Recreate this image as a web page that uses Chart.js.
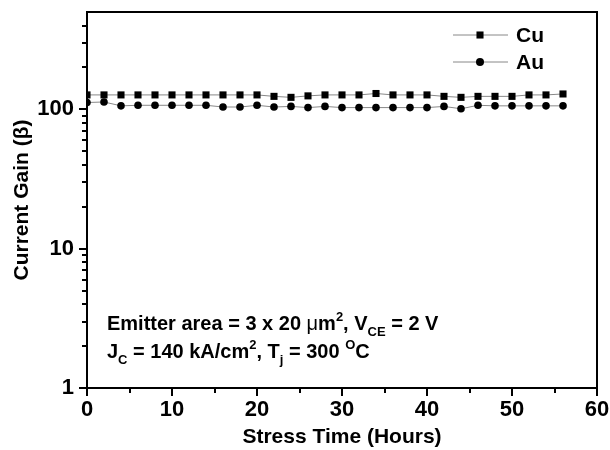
<!DOCTYPE html>
<html>
<head>
<meta charset="utf-8">
<script src="https://cdn.jsdelivr.net/npm/chart.js@4/dist/chart.umd.min.js"></script>
<style>
  html, body { margin: 0; padding: 0; background: #fff; }
  #wrap { width: 610px; height: 450px; }
</style>
</head>
<body>
<div id="wrap"><canvas id="gain"></canvas></div>
<script>
// stress time in hours
const hours = [0, 2, 4, 6, 8, 10, 12, 14, 16, 18, 20, 22, 24, 26, 28,
  30, 32, 34, 36, 38, 40, 42, 44, 46, 48, 50, 52, 54, 56]
// current gain beta
const cuGain = [127, 127, 127, 127, 127, 127, 127, 127, 127, 127, 127, 124, 122, 125, 127,
  127, 127, 130, 127, 127, 127, 124, 122, 124, 124, 124, 127, 127, 129]
const auGain = [112, 113, 106, 107, 107, 107, 107, 107, 104, 104, 107, 104, 105, 103, 105,
  103, 103, 103, 103, 103, 103, 105, 101, 107, 106, 106, 106, 106, 106]

const xMajor = [0, 10, 20, 30, 40, 50, 60]
const xMinor = [5, 15, 25, 35, 45, 55]
const yMajor = [1, 10, 100]
const yMinor = [2, 3, 4, 5, 6, 7, 8, 9, 20, 30, 40, 50, 60, 70, 80, 90, 200, 300, 400]

const FONT = '"Liberation Sans", Arial, sans-serif'

const points = (ys) => hours.map((h, i) => ({ x: h, y: ys[i] }))

// frame, minor ticks, legend and the test-condition note
const decorations = {
  id: 'decorations',
  afterDraw(chart) {
    const { ctx, chartArea: a, scales } = chart
    ctx.save()
    ctx.strokeStyle = '#000'
    ctx.lineWidth = 2
    ctx.strokeRect(a.left, a.top, a.right - a.left, a.bottom - a.top)

    ctx.beginPath()
    xMinor.forEach(v => {
      const px = Math.round(scales.x.getPixelForValue(v))
      ctx.moveTo(px, a.bottom)
      ctx.lineTo(px, a.bottom + 5)
    })
    yMinor.forEach(v => {
      const py = Math.round(scales.y.getPixelForValue(v))
      ctx.moveTo(a.left, py)
      ctx.lineTo(a.left - 5, py)
    })
    ctx.stroke()

    // legend
    const items = [
      { label: 'Cu', style: 'rect', r: 5, y: 35 },
      { label: 'Au', style: 'circle', r: 4, y: 62 }
    ]
    items.forEach(it => {
      ctx.strokeStyle = '#888'
      ctx.lineWidth = 1
      ctx.beginPath()
      ctx.moveTo(453, it.y)
      ctx.lineTo(508, it.y)
      ctx.stroke()
      ctx.fillStyle = '#000'
      Chart.helpers.drawPoint(ctx, { pointStyle: it.style, radius: it.r, borderWidth: 0 }, 480, it.y)
      ctx.fillStyle = '#000'
      ctx.font = 'bold 21px ' + FONT
      ctx.textBaseline = 'middle'
      ctx.textAlign = 'left'
      ctx.fillText(it.label, 516, it.y + 1)
    })

    // note with sub/superscripts
    const runs = (list, x, base) => {
      ctx.textBaseline = 'alphabetic'
      ctx.textAlign = 'left'
      list.forEach(r => {
        const size = r.sub || r.sup ? 13 : 20
        ctx.font = (r.plain ? '' : 'bold ') + size + 'px ' + FONT
        const dy = r.sup ? -9 : r.sub ? 6 : 0
        ctx.fillText(r.t, x, base + dy)
        x += ctx.measureText(r.t).width
      })
    }
    runs([
      { t: 'Emitter area = 3 x 20 ' }, { t: 'μ', plain: true }, { t: 'm' }, { t: '2', sup: true },
      { t: ', V' }, { t: 'CE', sub: true }, { t: ' = 2 V' }
    ], 107, 330)
    runs([
      { t: 'J' }, { t: 'C', sub: true }, { t: ' = 140 kA/cm' }, { t: '2', sup: true },
      { t: ', T' }, { t: 'j', sub: true }, { t: ' = 300 ' }, { t: 'O', sup: true }, { t: 'C' }
    ], 107, 358)
    ctx.restore()
  }
}

new Chart(document.getElementById('gain'), {
  type: 'line',
  data: {
    datasets: [
      {
        label: 'Cu',
        data: points(cuGain),
        borderColor: '#888',
        borderWidth: 1,
        pointStyle: 'rect',
        pointRadius: 5,
        pointBackgroundColor: '#000',
        pointBorderWidth: 0
      },
      {
        label: 'Au',
        data: points(auGain),
        borderColor: '#888',
        borderWidth: 1,
        pointStyle: 'circle',
        pointRadius: 3.8,
        pointBackgroundColor: '#000',
        pointBorderWidth: 0
      }
    ]
  },
  options: {
    responsive: true,
    maintainAspectRatio: false,
    animation: false,
    layout: { padding: { top: 12, right: 13, left: 0, bottom: 0 } },
    plugins: { legend: { display: false }, tooltip: { enabled: false } },
    scales: {
      x: {
        type: 'linear',
        min: 0,
        max: 60,
        afterBuildTicks: s => { s.ticks = xMajor.map(v => ({ value: v })) },
        afterFit: s => { s.height = 62; s.paddingLeft = 0; s.paddingRight = 0 },
        grid: { drawOnChartArea: false, tickLength: 8, color: '#000', lineWidth: 2 },
        border: { color: '#000', width: 2 },
        ticks: { color: '#000', font: { family: FONT, size: 22, weight: 'bold' }, padding: 1, maxRotation: 0 },
        title: {
          display: true,
          text: 'Stress Time (Hours)',
          color: '#000',
          font: { family: FONT, size: 21, weight: 'bold' },
          padding: { top: 1, bottom: 0 }
        }
      },
      y: {
        type: 'logarithmic',
        min: 1,
        max: 500,
        afterBuildTicks: s => { s.ticks = yMajor.map(v => ({ value: v })) },
        afterFit: s => { s.width = 87; s.paddingTop = 0; s.paddingBottom = 0 },
        grid: { drawOnChartArea: false, tickLength: 8, color: '#000', lineWidth: 2 },
        border: { color: '#000', width: 2 },
        ticks: { color: '#000', font: { family: FONT, size: 22, weight: 'bold' }, padding: 5, callback: v => String(v) },
        title: {
          display: true,
          text: 'Current Gain (β)',
          color: '#000',
          font: { family: FONT, size: 21, weight: 'bold' },
          padding: { top: 10, bottom: 0 }
        }
      }
    }
  },
  plugins: [decorations]
})
</script>
</body>
</html>
